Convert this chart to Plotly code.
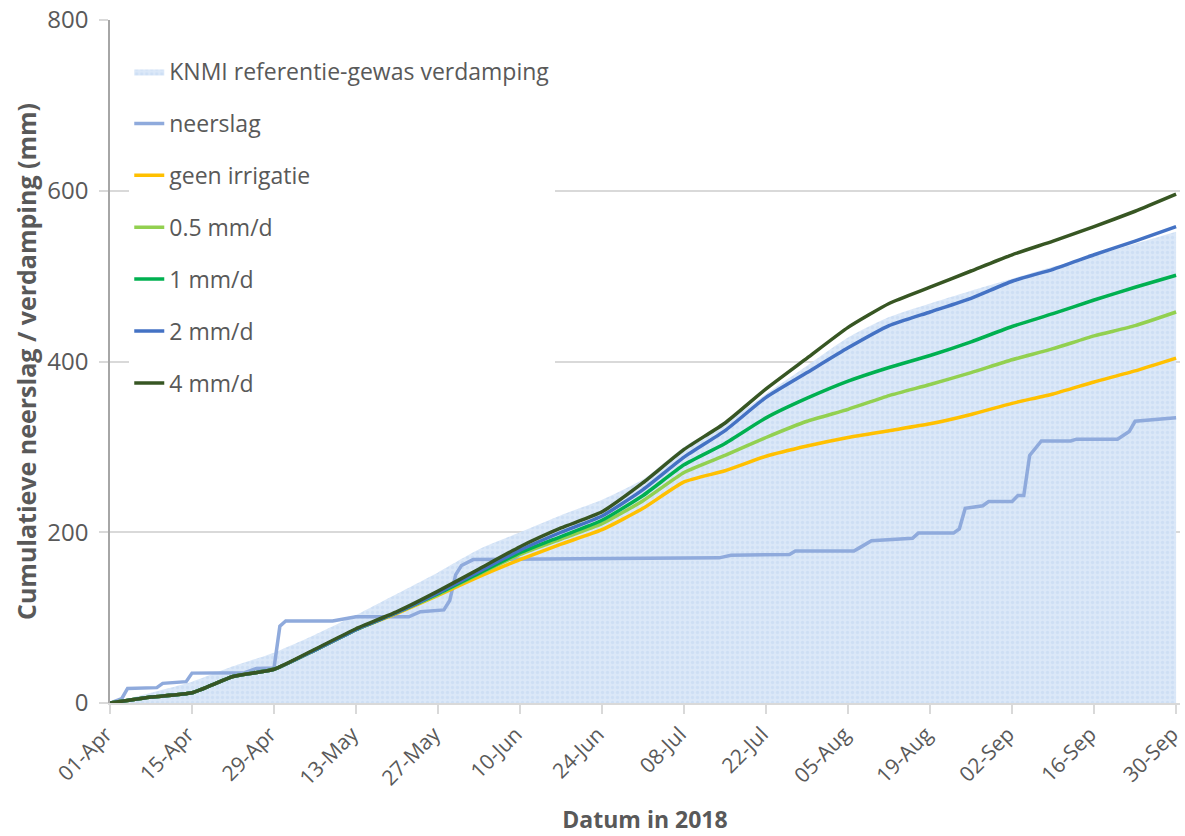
import plotly.graph_objects as go

# ---- data ----
week_dates = ["2018-04-01", "2018-04-08", "2018-04-15", "2018-04-22", "2018-04-29",
              "2018-05-06", "2018-05-13", "2018-05-20", "2018-05-27", "2018-06-03",
              "2018-06-10", "2018-06-17", "2018-06-24", "2018-07-01", "2018-07-08",
              "2018-07-15", "2018-07-22", "2018-07-29", "2018-08-05", "2018-08-12",
              "2018-08-19", "2018-08-26", "2018-09-02", "2018-09-09", "2018-09-16",
              "2018-09-23", "2018-09-30"]

knmi_evap = [0, 12, 25, 43, 59, 80, 103, 128, 153, 180, 200, 220, 238, 262, 300,
             328, 362, 395, 428, 452, 468, 483, 497, 511, 524, 538, 552]
irr_4 = [0, 7, 12, 31, 39.5, 63, 87, 107, 131, 157, 183, 205, 224, 258, 297,
         328, 368, 404, 440, 468, 487, 506, 525, 541, 558, 576, 596]
irr_2 = [0, 7, 12, 31, 39.5, 62, 86, 106, 129, 154, 179, 200, 219, 250, 288,
         319, 358, 387, 416, 442, 458, 474, 494, 508, 525, 541, 558]
irr_1 = [0, 7, 12, 31, 39.5, 62, 86, 106, 128, 152, 176, 195, 214, 243, 279,
         304, 334, 357, 377, 393, 407, 423, 441, 456, 472, 487, 501]
irr_05 = [0, 7, 12, 31, 39.5, 62, 86, 106, 127, 151, 174, 192, 210, 237, 270,
          290, 311, 330, 344, 360, 373, 387, 402, 415, 430, 442, 458]
geen_irr = [0, 7, 12, 31, 39.5, 62, 86, 105, 126, 148, 168, 186, 203, 228, 259,
            272, 289, 301, 311, 319, 327, 338, 351, 362, 376, 389, 404]

rain_dates = ["2018-04-01", "2018-04-02", "2018-04-03", "2018-04-04", "2018-04-09",
              "2018-04-10", "2018-04-13", "2018-04-14", "2018-04-15", "2018-04-24",
              "2018-04-26", "2018-04-29", "2018-04-30", "2018-05-01", "2018-05-09",
              "2018-05-11", "2018-05-13", "2018-05-22", "2018-05-24", "2018-05-28",
              "2018-05-29", "2018-05-30", "2018-05-31", "2018-06-02", "2018-07-08",
              "2018-07-14", "2018-07-16", "2018-07-26", "2018-07-27", "2018-08-06",
              "2018-08-07", "2018-08-09", "2018-08-16", "2018-08-17", "2018-08-23",
              "2018-08-24", "2018-08-25", "2018-08-28", "2018-08-29", "2018-09-02",
              "2018-09-03", "2018-09-04", "2018-09-05", "2018-09-07", "2018-09-12",
              "2018-09-13", "2018-09-20", "2018-09-22", "2018-09-23", "2018-09-30"]
neerslag = [0, 2, 5, 17, 18, 23, 24, 25, 35, 35.5, 40.5, 41, 90, 96, 96,
            99, 101, 101, 107, 109, 120, 150, 161, 168, 169, 170, 173, 174, 178, 178,
            182, 190, 193, 199, 199, 204, 228, 231, 236, 236, 243, 243, 290, 307, 307,
            309, 309, 318, 330, 334]

tick_dates = ["2018-04-01", "2018-04-15", "2018-04-29", "2018-05-13", "2018-05-27",
              "2018-06-10", "2018-06-24", "2018-07-08", "2018-07-22", "2018-08-05",
              "2018-08-19", "2018-09-02", "2018-09-16", "2018-09-30"]
y_ticks = [0, 200, 400, 600, 800]

# ---- styling ----
TXT = "#595959"
GRID = "#d9d9d9"
FONT = "Open Sans"

fig = go.Figure()

fig.add_trace(go.Scatter(
    x=week_dates, y=knmi_evap, name="KNMI referentie-gewas verdamping",
    mode="lines", line=dict(width=0, shape="spline", smoothing=0.6),
    fill="tozeroy", fillcolor="rgb(216,230,247)",
    fillpattern=dict(shape=".", fgcolor="rgba(175,202,238,0.6)",
                     bgcolor="rgb(219,232,248)", size=5, solidity=0.35),
    legendgroup="g0", hoverinfo="skip"))

fig.add_trace(go.Scatter(x=rain_dates, y=neerslag, name="neerslag", mode="lines",
                         line=dict(color="#8faadc", width=3.5), legendgroup="g1"))

line_series = [
    ("geen irrigatie", geen_irr, "#ffc000"),
    ("0.5 mm/d", irr_05, "#92d050"),
    ("1 mm/d", irr_1, "#00b050"),
    ("2 mm/d", irr_2, "#4472c4"),
    ("4 mm/d", irr_4, "#375623"),
]
for i, (nm, vals, col) in enumerate(line_series):
    fig.add_trace(go.Scatter(x=week_dates, y=vals, name=nm, mode="lines",
                             line=dict(color=col, width=3.5, shape="spline", smoothing=0.5),
                             legendgroup=f"g{i+2}"))

fig.update_layout(
    width=1185, height=836,
    margin=dict(l=110, r=5, t=20, b=133, autoexpand=False),
    paper_bgcolor="white", plot_bgcolor="white",
    font=dict(family=FONT, color=TXT, size=20),
    legend=dict(x=0.018, y=0.956, xanchor="left", yanchor="top",
                bgcolor="white", font=dict(size=23, color=TXT, family=FONT),
                tracegroupgap=19, itemwidth=30),
    showlegend=True,
)

fig.update_xaxes(
    type="date", range=["2018-04-01", "2018-09-30 16:00"], automargin=False,
    tickvals=tick_dates, tickformat="%d-%b", tickangle=-45,
    tickfont=dict(size=21, color=TXT, family=FONT), ticklabeloverflow="allow",
    ticklabelshift=-4,
    showgrid=False, showline=True, linecolor=GRID, linewidth=1.5,
    ticks="outside", ticklen=9, tickcolor=GRID, tickwidth=1.5,
    title=dict(text="<b>Datum in 2018</b>", font=dict(size=23, color=TXT, family=FONT),
               standoff=22),
)
fig.update_yaxes(
    range=[0, 800], tickvals=y_ticks, automargin=False,
    tickfont=dict(size=24, color=TXT, family=FONT),
    showgrid=True, gridcolor=GRID, gridwidth=1.5, zeroline=False,
    showline=True, linecolor="#a6a6a6", linewidth=1.5,
    ticks="outside", ticklen=9, tickcolor=GRID, tickwidth=1.5,
    ticklabelstandoff=6,
    title=dict(text="<b>Cumulatieve neerslag / verdamping (mm)</b>",
               font=dict(size=25, color=TXT, family=FONT), standoff=4),
)

fig.write_html("out.html")
